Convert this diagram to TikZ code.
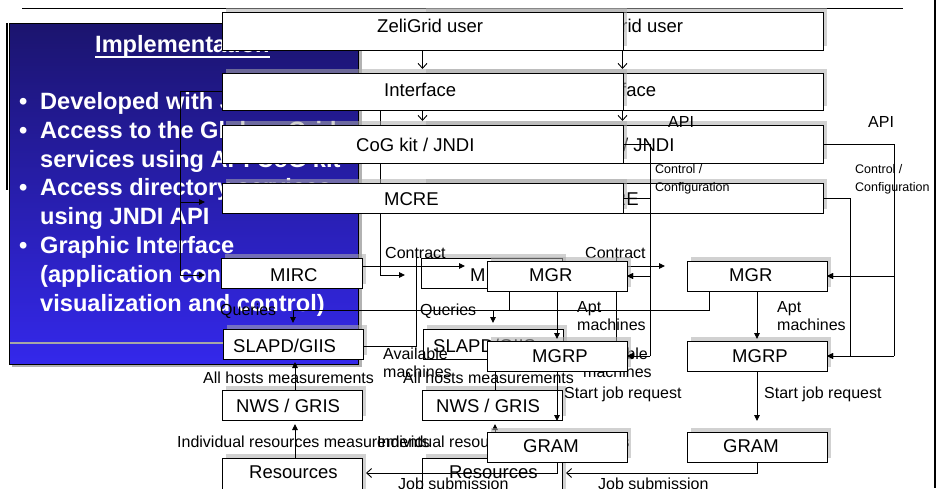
\documentclass[tikz,border=0pt]{standalone}
\usepackage{fontspec}
\setmainfont{Liberation Sans}
\usetikzlibrary{arrows.meta}
\definecolor{pTop}{RGB}{27,20,110}
\definecolor{pMid}{RGB}{42,32,200}
\definecolor{pBot}{RGB}{52,40,235}
\tikzset{
  box/.style={draw=black, line width=1pt, fill=white, inner sep=0pt, outer sep=0pt},
  shadowc/.style={fill=gray!65, opacity=0.55},
  lbl/.style={anchor=base west, inner sep=0pt, font=\fontsize{16}{18}\selectfont},
  btxt/.style={anchor=base west, inner sep=0pt, font=\fontsize{18.5}{20}\selectfont},
  stxt/.style={anchor=base west, inner sep=0pt, font=\fontsize{12.5}{14}\selectfont},
  ptxt/.style={anchor=base west, inner sep=0pt, text=white, font=\fontsize{23.6}{26}\selectfont\bfseries},
  conn/.style={draw=black, line width=0.9pt},
  fa/.style={-{Triangle[length=6pt,width=5.5pt]}},
  oa/.style={-{Straight Barb[length=5pt,width=9pt]}},
}
\newcommand\zgbox[8]{%
  \fill[shadowc] (#2+4,#3-4) rectangle (#4+4,#5-4);
  \node[box, anchor=north west, minimum width={#4-#2}, minimum height={#5-#3}] (#1) at (#2,#3) {};
  \node[btxt] (#1t) at (#6,#7) {#8};
}
\newcommand\zgdiag[2]{%
  % boxes
  \zgbox{zeli#1}{222}{12}{623}{50}{377}{32}{ZeliGrid user}
  \zgbox{intf#1}{222}{73}{623}{110}{384}{96}{Interface}
  \zgbox{cog#1}{222}{125}{623}{163}{356}{151}{CoG kit / JNDI}
  \zgbox{mcre#1}{222}{183}{623}{213}{384}{205}{MCRE}
  \zgbox{mirc#1}{221}{258}{362}{288}{270}{281}{MIRC}
  \zgbox{slapd#1}{223}{329}{363}{359}{233}{352}{SLAPD/GIIS}
  \zgbox{nws#1}{222}{390}{362}{420}{236}{412}{NWS / GRIS}
  \zgbox{res#1}{222}{458}{362}{500}{249}{478}{Resources}
  \zgbox{mgr#1}{487}{261}{627}{291}{529}{281}{MGR}
  \zgbox{mgrp#1}{487}{341}{627}{371}{532}{362}{MGRP}
  \zgbox{gram#1}{487}{432}{627}{462}{523}{452}{GRAM}
  % connectors
  \draw[conn,oa] (zeli#1.south) -- ++(0,19);
  \draw[conn,oa] (intf#1.south) -- ++(0,11);
  \draw[conn,fa] (intf#1.west) -- ++(-42,0) -- ++(0,183.5) -- ++(25,0);
  \draw[conn,fa] (intf#1.west) ++(-42,110.5) -- ++(25,0);
  \draw[conn,fa] (mirc#1.north east) ++(0,8) -- ++(103,0);
  \draw[conn,fa] (mgr#1.south west) ++(22,0) -- ++(0,19) -- ++(-216,0) -- ++(0,13);
  \draw[conn,fa] (mgr#1.south west) ++(70,0) -- ++(0,48);
  \draw[conn] (slapd#1.east) ++(0,2) -- ++(53,0) -- ++(0,-90);
  \draw[conn,fa] (nws#1.north west) ++(73,0) -- ++(0,-28);
  \draw[conn,fa] (res#1.north west) ++(73,0) -- ++(0,-34);
  \draw[conn,fa] (mgrp#1.south west) ++(70,0) -- ++(0,50);
  \draw[conn,oa] (gram#1.south west) ++(70,0) -- ++(0,11) -- ++(-191,0);
  \draw[conn] (mcre#1.east) -- ++(27,0) -- ++(0,158);
  \draw[conn] (cog#1.east) -- ++(27+#2,0) -- ++(0,212);
  \draw[conn,fa] (mgr#1.east) ++(23+#2,0) -- (mgr#1.east);
  \draw[conn,fa] (mgrp#1.east) ++(23+#2,0) -- (mgrp#1.east);
  \draw[conn,fa] (mgr#1.east) ++(23,0) -- (mgr#1.east);
  \draw[conn,fa] (mgrp#1.east) ++(23,0) -- (mgrp#1.east);
  % labels
  \node[lbl] (contract#1) at (385,258) {Contract};
  \node[lbl] (queries#1) at (220,315) {Queries};
  \node[lbl] (apt#1) at (577,312) {Apt};
  \node[lbl] (aptm#1) at (577,330) {machines};
  \node[lbl] (avail#1) at (383,359) {Available};
  \node[lbl] (availm#1) at (383,377) {machines};
  \node[lbl] (allh#1) at (203,383) {All hosts measurements};
  \node[lbl] (indiv#1) at (177,447) {Individual resources measurements};
  \node[lbl] (start#1) at (564,398) {Start job request};
  \node[lbl] (jobs#1) at (398,489) {Job submission};
  \node[lbl] (api#1) at (668,127) {API};
  \node[stxt] (ctl#1) at (655,173) {Control /};
  \node[stxt] (cfg#1) at (655,191) {Configuration};
}
\begin{document}
\begin{tikzpicture}[x=1pt,y=-1pt]
\useasboundingbox (0,0) rectangle (938,488);
\clip (0,0) rectangle (938,488);
\fill[white] (0,0) rectangle (938,488);
% slide rules
\draw[line width=1pt] (22,8) -- (903,8);
\draw[line width=2.6pt] (935,0) -- (935,488);
% blue panel
\fill[gray!60] (12,26) rectangle (362,367);
\shade[top color=pTop, middle color=pMid, bottom color=pBot] (9,23) rectangle (358,364);
\draw[line width=0.8pt] (9,23) rectangle (358,364);
\draw[line width=1.6pt] (7,23) -- (7,190);
\draw[gray!70, line width=2pt] (10,343) -- (357,343);
\node[ptxt] (impl) at (95,52) {Implementation};
\draw[white, line width=2pt] ([yshift=-5pt]impl.base west) -- ([yshift=-5pt]impl.base east);
\node[ptxt] (b1) at (19,109) {•};
\node[ptxt] (l1) at (40,109) {Developed with Java};
\node[ptxt] (b2) at (19,138) {•};
\node[ptxt] (l2) at (40,138) {Access to the Globus Grid};
\node[ptxt] (l3) at (40,167) {services using API CoG kit};
\node[ptxt] (b3) at (19,195) {•};
\node[ptxt] (l4) at (40,195) {Access directory services};
\node[ptxt] (l5) at (40,224) {using JNDI API};
\node[ptxt] (b4) at (19,253) {•};
\node[ptxt] (l6) at (40,253) {Graphic Interface};
\node[ptxt] (l7) at (40,282) {(application configuration,};
\node[ptxt] (l8) at (40,311) {visualization and control)};
% rear copy of the diagram
\begin{scope}[xshift=200pt]
\zgdiag{b}{44}
\end{scope}
% front copy of the diagram
\zgdiag{a}{0}
\end{tikzpicture}
\end{document}
